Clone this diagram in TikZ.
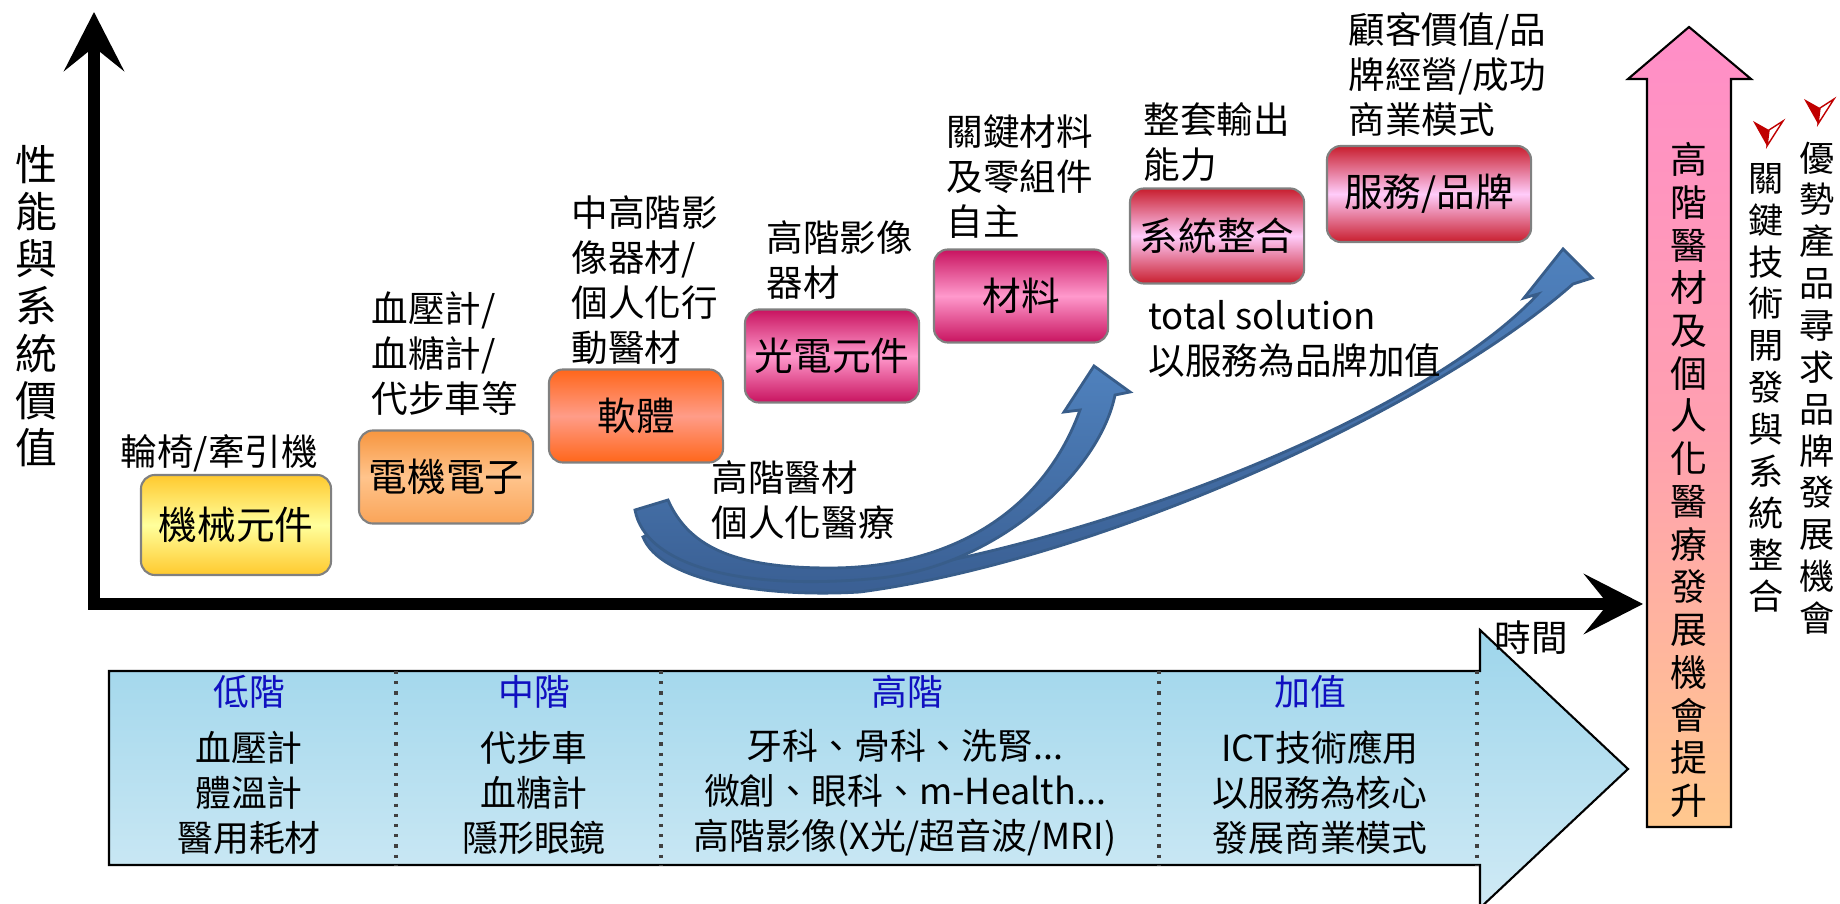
\documentclass[tikz,border=0pt]{standalone}
\usepackage{fontspec}
\setmainfont{Noto Sans CJK TC}
\usetikzlibrary{arrows.meta,positioning}
\definecolor{boxline}{HTML}{808080}
\definecolor{yelend}{HTML}{FFC92E}
\definecolor{yelmid}{HTML}{FFFF9C}
\definecolor{orgtop}{HTML}{F7963F}
\definecolor{orgmid}{HTML}{FFC48C}
\definecolor{orgbot}{HTML}{FAA458}
\definecolor{redend}{HTML}{FF661A}
\definecolor{redmid}{HTML}{FF9C88}
\definecolor{magend}{HTML}{C8135F}
\definecolor{magmid}{HTML}{FF99CC}
\definecolor{crimend}{HTML}{C81E2E}
\definecolor{crimmid}{HTML}{FFCCFA}
\definecolor{arrowblue}{HTML}{4F81BD}
\definecolor{arrowdark}{HTML}{3A5F93}
\definecolor{arrowedge}{HTML}{385D8A}
\definecolor{pinktop}{HTML}{FF8EC8}
\definecolor{pinkmid}{HTML}{FFA0B0}
\definecolor{pinkbot}{HTML}{FFC88E}
\definecolor{tbluetop}{HTML}{9DD5EB}
\definecolor{tbluebot}{HTML}{D0EAF5}
\definecolor{headblue}{HTML}{1010C0}
\definecolor{markred}{HTML}{C00000}

\begin{document}
\begin{tikzpicture}[x=0.01cm, y=-0.01cm,
  stepbox/.style={draw=boxline, line width=0.6pt, rounded corners=0.14cm, minimum width=1.74cm, minimum height=0.93cm, inner sep=0pt, font=\fontsize{11}{13}\selectfont},
  lab/.style={align=left, anchor=west, inner sep=0pt, font=\fontsize{10.4}{12.8}\selectfont},
  head/.style={text=headblue, inner sep=0pt, font=\fontsize{10.2}{12.8}\selectfont},
  cell/.style={align=center, inner sep=0pt, font=\fontsize{10.2}{12.8}\selectfont},
  vtext/.style={align=center, inner sep=0pt},
  axis/.style={line width=3.4pt, -{Stealth[length=0.59cm, width=0.6cm, inset=0.24cm]}},
  bluearrow/.style={top color=arrowblue, bottom color=arrowdark, draw=arrowedge, line width=0.8pt},
  divider/.style={dotted, line width=0.9pt, black!75}]
\useasboundingbox (0,0) rectangle (1840,904);

\shade[draw=black, line width=0.6pt, top color=tbluetop, bottom color=tbluebot] (109,671) -- (1480,671) -- (1480,630) -- (1628,769) -- (1480,908) -- (1480,865) -- (109,865) -- cycle;
\foreach \dx in {396,661,1159,1477} \draw[divider] (\dx,671) -- (\dx,865);
\node[head] (lowh) at (249,692) {低階};
\node[cell] (lowc) at (249,793) {血壓計\\體溫計\\醫用耗材};
\node[head] (midh) at (534,692) {中階};
\node[cell] (midc) at (534,793) {代步車\\血糖計\\隱形眼鏡};
\node[head] (highh) at (907,692) {高階};
\node[cell] (highc) at (905,793) {牙科、骨科、洗腎...\\微創、眼科、m-Health...\\高階影像(X光/超音波/MRI)};
\node[head] (addh) at (1310,692) {加值};
\node[cell] (addc) at (1320,793) {ICT技術應用\\以服務為核心\\發展商業模式};

\shade[draw=black, line width=0.6pt, top color=pinktop, bottom color=pinkbot, middle color=pinkmid] (1647,827) -- (1647,79) -- (1628,79) -- (1689,27) -- (1751,79) -- (1731,79) -- (1731,827) -- cycle;
\node[vtext, font=\fontsize{10.5}{12.15}\selectfont] (rise) at (1689,480) {高\\階\\醫\\材\\及\\個\\人\\化\\醫\\療\\發\\展\\機\\會\\提\\升};
\node[vtext, font=\fontsize{10}{11.9}\selectfont] (keytech) at (1766,388) {關\\鍵\\技\\術\\開\\發\\與\\系\\統\\整\\合};
\node[vtext, font=\fontsize{10}{11.9}\selectfont] (brand) at (1817,388) {優\\勢\\產\\品\\尋\\求\\品\\牌\\發\\展\\機\\會};
\foreach \cx/\cy in {1768/121,1819/99} {
  \fill[markred] (\cx-15,\cy) -- (\cx+1,\cy+9) -- (\cx-1,\cy+25) -- cycle;
  \filldraw[draw=markred, fill=white, line width=0.4pt] (\cx+1,\cy+9) -- (\cx+15,\cy) -- (\cx-1,\cy+25) -- cycle;
}

\coordinate (yfoot) at (94,610);
\coordinate (ytop) at (94,12);
\coordinate (xfoot) at (88,604);
\coordinate (xend) at (1643,604);
\draw[axis] (yfoot) -- (ytop);
\draw[axis] (xfoot) -- (xend);
\node[vtext, font=\fontsize{11.9}{13.4}\selectfont] (ylab) at (36,306) {性\\能\\與\\系\\統\\價\\值};
\node[inner sep=0pt, font=\fontsize{10.4}{12.8}\selectfont] (time) at (1531,638) {時間};

\shade[bluearrow] (643,537) .. controls (660,580) and (760,598) .. (860,592) .. controls (1100,560) and (1430,410) .. (1573,284) -- (1592,278) -- (1563,249) -- (1524,298) -- (1538,294) .. controls (1430,410) and (1130,530) .. (900,570) .. controls (790,585) and (690,570) .. (660,528) -- cycle;
\shade[bluearrow] (635,510) -- (668,500) .. controls (690,550) and (740,568) .. (830,568) .. controls (940,568) and (1040,520) .. (1080,410) -- (1064,412) -- (1094,366) -- (1130,392) -- (1115,395) .. controls (1100,470) and (1000,565) .. (880,578) .. controls (740,592) and (645,565) .. (635,510) -- cycle;

\node[stepbox, top color=yelend, bottom color=yelend, middle color=yelmid, minimum width=1.9cm, minimum height=1cm] (mech) at (236,525) {機械元件};
\node[stepbox, top color=orgtop, bottom color=orgbot, middle color=orgmid] (elec) at (446,477) {電機電子};
\node[stepbox, top color=redend, bottom color=redend, middle color=redmid] (soft) at (636,416) {軟體};
\node[stepbox, top color=magend, bottom color=magend, middle color=magmid] (opto) at (832,356) {光電元件};
\node[stepbox, top color=magend, bottom color=magend, middle color=magmid] (matl) at (1021,296) {材料};
\node[stepbox, top color=crimend, bottom color=crimend, middle color=crimmid, minimum height=0.95cm] (sys) at (1217,236) {系統整合};
\node[stepbox, top color=crimend, bottom color=crimend, middle color=crimmid, minimum width=2.04cm, minimum height=0.96cm] (svc) at (1429,194) {服務/品牌};

\node[lab] (mechlab) at (120,453) {輪椅/牽引機};
\node[lab] (eleclab) at (371,354) {血壓計/\\血糖計/\\代步車等};
\node[lab] (softlab) at (571,280) {中高階影\\像器材/\\個人化行\\動醫材};
\node[lab] (optolab) at (766,260) {高階影像\\器材};
\node[lab] (matllab) at (946,177) {關鍵材料\\及零組件\\自主};
\node[lab] (syslab) at (1143,142) {整套輸出\\能力};
\node[lab] (svclab) at (1348,74) {顧客價值/品\\牌經營/成功\\商業模式};
\node[lab] (totallab) at (1148,339) {total solution\\以服務為品牌加值};
\node[lab] (medlab) at (711,500) {高階醫材\\個人化醫療};
\end{tikzpicture}
\end{document}
